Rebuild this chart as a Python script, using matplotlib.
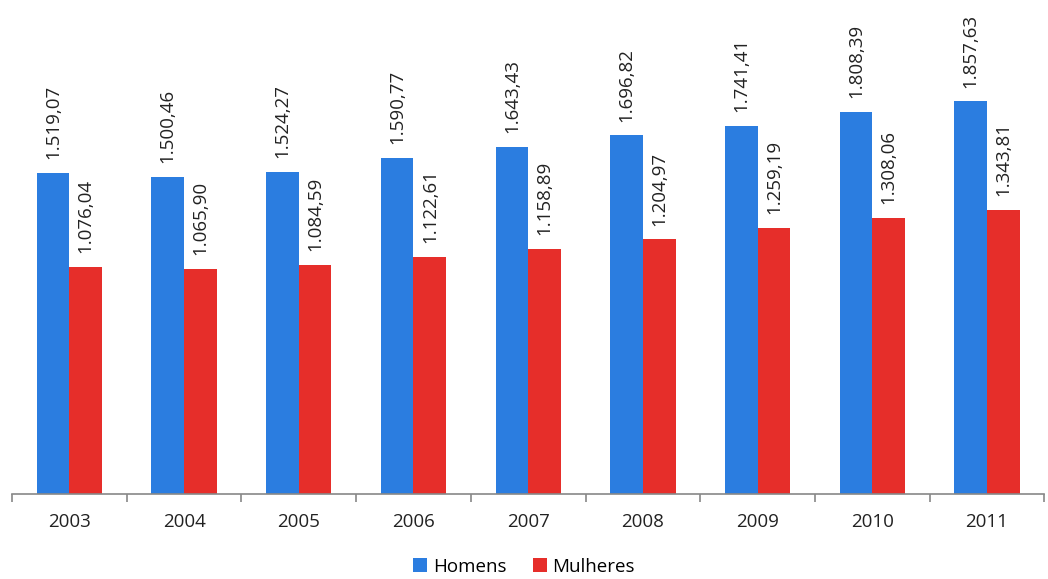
import numpy as np
import matplotlib.pyplot as plt
from matplotlib.ticker import FixedLocator

plt.rcParams['font.family'] = ['Open Sans', 'DejaVu Sans']

years = ['2003', '2004', '2005', '2006', '2007', '2008', '2009', '2010', '2011']
homens = [1519.07, 1500.46, 1524.27, 1590.77, 1643.43, 1696.82, 1741.41, 1808.39, 1857.63]
mulheres = [1076.04, 1065.90, 1084.59, 1122.61, 1158.89, 1204.97, 1259.19, 1308.06, 1343.81]
series_names = ['Homens', 'Mulheres']

blue = '#2b7de0'
red = '#e62e2a'


def fmt_br(v):
    # 1519.07 -> 1.519,07
    s = f'{v:,.2f}'
    return s.replace(',', 'X').replace('.', ',').replace('X', '.')


fig = plt.figure(figsize=(10.48, 5.79), dpi=100, facecolor='w')
ax = fig.add_axes([0.0115, 0.1468, 0.985, 0.8532])

x = np.arange(len(years))
w = 0.285
b1 = ax.bar(x - w / 2, homens, w, color=blue, label=series_names[0])
b2 = ax.bar(x + w / 2, mulheres, w, color=red, label=series_names[1])

for bars, vals in ((b1, homens), (b2, mulheres)):
    for rect, v in zip(bars, vals):
        ax.annotate(fmt_br(v), (rect.get_x() + rect.get_width() / 2, v),
                    xytext=(0, 10), textcoords='offset points',
                    rotation=90, ha='center', va='bottom',
                    fontsize=13.5, color='#222222')

ax.set_xlim(-0.5, len(years) - 0.5)
ax.set_ylim(0, 2338)

for s in ['top', 'right', 'left']:
    ax.spines[s].set_visible(False)
ax.spines['bottom'].set_color('#888888')
ax.spines['bottom'].set_linewidth(1.2)
ax.set_yticks([])

ax.set_xticks(x)
ax.set_xticklabels(years, fontsize=13.5, color='#222222')
ax.tick_params(axis='x', which='major', length=0, pad=14)
ax.xaxis.set_minor_locator(FixedLocator(np.arange(-0.5, len(years), 1.0)))
ax.tick_params(axis='x', which='minor', length=6, color='#888888', width=1.2)

fig.legend(handles=[b1, b2], labels=series_names, loc='center',
           bbox_to_anchor=(0.5, 0.021), ncol=2, frameon=False,
           fontsize=13.5, handlelength=0.75, handleheight=0.75,
           handletextpad=0.3, columnspacing=1.4)

fig.savefig('out.png', dpi=100)
